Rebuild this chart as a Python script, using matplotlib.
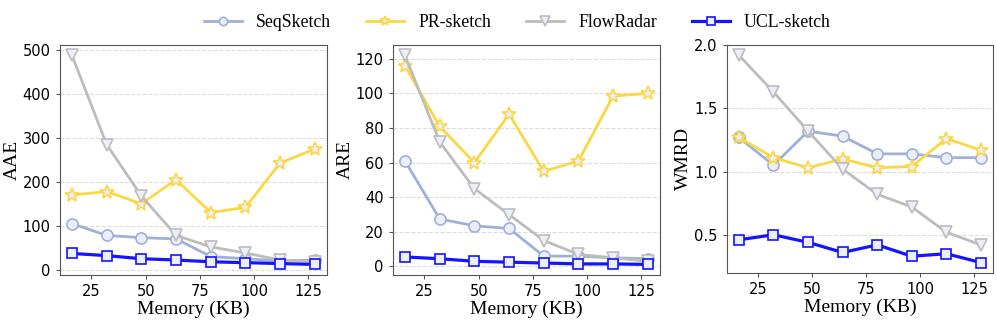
import matplotlib
matplotlib.use("Agg")
import matplotlib.pyplot as plt

# memory sizes (KB)
memory = [16, 32, 48, 64, 80, 96, 112, 128]

# AAE
aae_seq = [105, 78, 73, 70, 30, 25, 20, 22]
aae_pr = [170, 178, 150, 205, 130, 142, 243, 275]
aae_fr = [488, 285, 168, 78, 52, 38, 22, 18]
aae_ucl = [37, 32, 25, 22, 18, 16, 14, 12]

# ARE
are_seq = [61, 27.5, 23.5, 22, 6, 6, 5, 4.5]
are_pr = [116, 81, 60, 88, 55, 61, 98.5, 100]
are_fr = [122, 72, 45, 30, 15, 7, 5, 3]
are_ucl = [5.5, 4.5, 3, 2.5, 2, 1.5, 1.5, 1.2]

# WMRD
wmrd_seq = [1.27, 1.05, 1.32, 1.28, 1.14, 1.14, 1.11, 1.11]
wmrd_pr = [1.27, 1.11, 1.03, 1.10, 1.03, 1.04, 1.26, 1.17]
wmrd_fr = [1.92, 1.63, 1.32, 1.02, 0.82, 0.72, 0.52, 0.42]
wmrd_ucl = [0.46, 0.50, 0.44, 0.36, 0.42, 0.33, 0.35, 0.28]

labels = ["SeqSketch", "PR-sketch", "FlowRadar", "UCL-sketch"]
colors = ["#9fb0d9", "#fbd743", "#bdbdbd", "#1414ff"]
markers = ["o", "*", "v", "s"]
sizes = [8, 10, 9, 7.5]
widths = [2, 2, 2, 2.3]

panels = [
    ("AAE", [aae_seq, aae_pr, aae_fr, aae_ucl], [0.060, 0.149, 0.268, 0.712]),
    ("ARE", [are_seq, are_pr, are_fr, are_ucl], [0.394, 0.149, 0.268, 0.712]),
    ("WMRD", [wmrd_seq, wmrd_pr, wmrd_fr, wmrd_ucl], [0.729, 0.155, 0.267, 0.706]),
]

serif = ["Liberation Serif", "DejaVu Serif"]

fig = plt.figure(figsize=(9.97, 3.23), dpi=100)
handles = []
for name, series, rect in panels:
    ax = fig.add_axes(rect)
    hs = []
    for vals, lab, c, m, s, w in zip(series, labels, colors, markers, sizes, widths):
        h, = ax.plot(memory, vals, color=c, marker=m, markersize=s, linewidth=w,
                     markerfacecolor="#eceef9", markeredgecolor=c, markeredgewidth=1.2,
                     label=lab)
        hs.append(h)
    handles = hs
    ax.set_xticks([25, 50, 75, 100, 125])
    ax.set_xlabel("Memory (KB)", family=serif, fontsize=14, labelpad=1)
    ax.set_ylabel(name, family=serif, fontsize=14, labelpad=1.5)
    ax.tick_params(labelsize=10.5, length=3, color="#555555")
    ax.grid(axis="y", linestyle="--", color="#dddddd", linewidth=0.8)
    ax.set_axisbelow(True)
    for sp in ax.spines.values():
        sp.set_color("#555555")

fig.legend(handles, labels, loc="center", bbox_to_anchor=(0.519, 0.930), ncol=4,
           frameon=False, prop={"family": serif, "size": 12.8}, columnspacing=1.97,
           handlelength=2.13, handletextpad=0.79, markerscale=0.75)

fig.savefig("out.png", dpi=100)
